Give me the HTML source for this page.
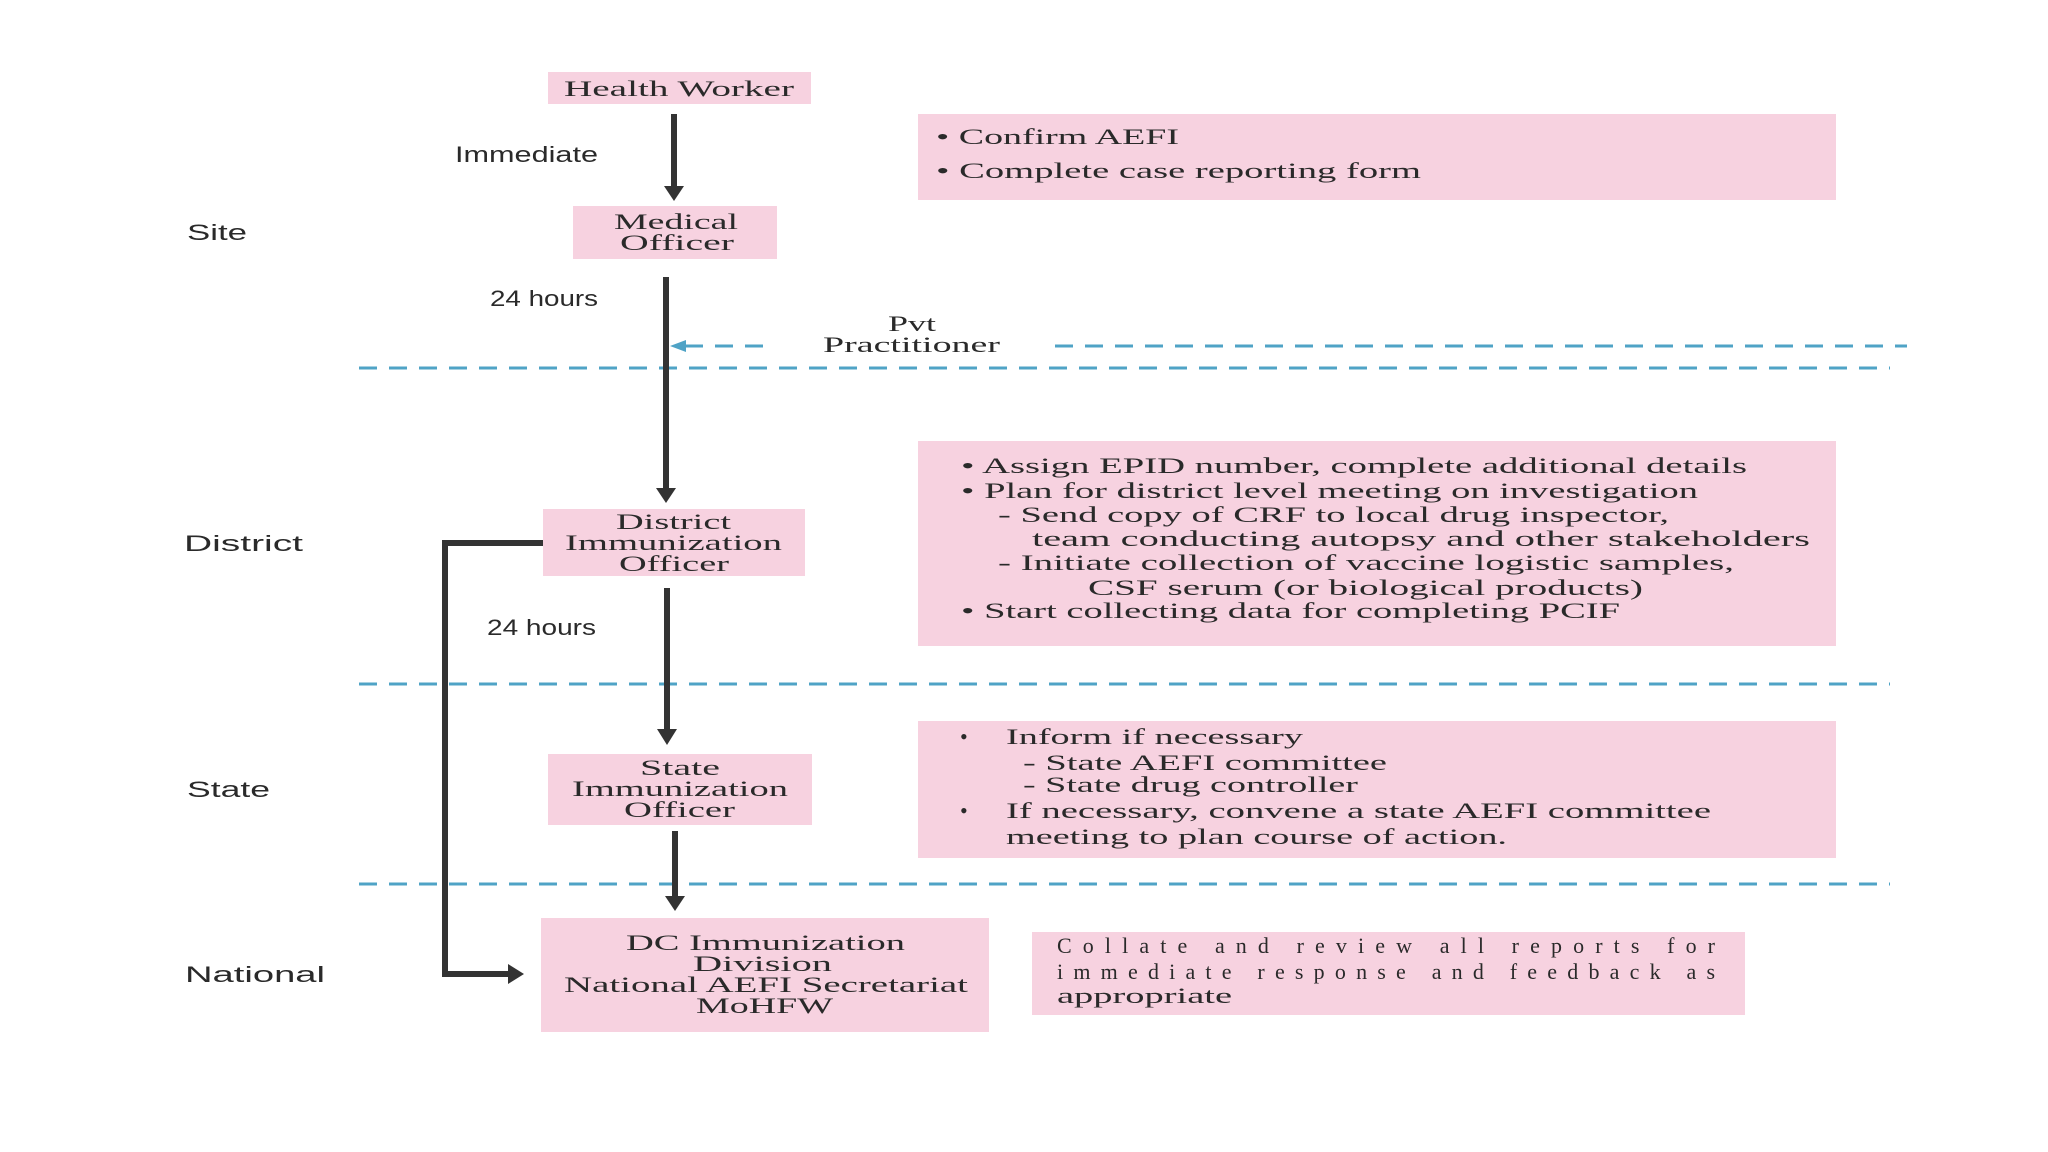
<!DOCTYPE html>
<html><head><meta charset="utf-8"><style>
html,body{margin:0;padding:0;background:#fff;}
svg{display:block;}
.s{font-family:"Liberation Serif",serif;font-size:22px;fill:#2a2a2a;}
.a{font-family:"Liberation Sans",sans-serif;font-size:22px;fill:#2a2a2a;}
</style></head><body>
<svg width="2048" height="1152" viewBox="0 0 2048 1152" xmlns="http://www.w3.org/2000/svg">
<defs>
<marker id="ah" markerWidth="8" markerHeight="8" refX="4" refY="4" orient="auto" markerUnits="userSpaceOnUse"><path d="M0,0 L0,0"/></marker>
</defs>
<rect width="2048" height="1152" fill="#fff"/>
<g fill="#f7d2e0">
<rect x="548" y="72" width="263" height="32"/>
<rect x="573" y="206" width="204" height="53"/>
<rect x="543" y="509" width="262" height="67"/>
<rect x="548" y="754" width="264" height="71"/>
<rect x="541" y="918" width="448" height="114"/>
<rect x="918" y="114" width="918" height="86"/>
<rect x="918" y="441" width="918" height="205"/>
<rect x="918" y="721" width="918" height="137"/>
<rect x="1032" y="932" width="713" height="83"/>
</g>
<!-- dashed lines -->
<g stroke="#4fa3c6" stroke-width="3" stroke-dasharray="18,12" fill="none">
<line x1="359" y1="368" x2="1890" y2="368"/>
<line x1="359" y1="684" x2="1890" y2="684"/>
<line x1="359" y1="884" x2="1890" y2="884"/>
<line x1="685" y1="346" x2="770" y2="346"/>
<line x1="1055" y1="346" x2="1907" y2="346"/>
</g>
<path d="M670,346 L686,340 L686,352 Z" fill="#4fa3c6"/>
<!-- arrows -->
<g stroke="#333" stroke-width="6" fill="none">
<line x1="674" y1="114" x2="674" y2="188"/>
<line x1="666" y1="277" x2="666" y2="490"/>
<line x1="667" y1="588" x2="667" y2="731"/>
<line x1="675" y1="831" x2="675" y2="898"/>
<polyline points="543,543 445,543 445,974 510,974"/>
</g>
<g fill="#333">
<path d="M664,186 L684,186 L674,201 Z"/>
<path d="M656,488 L676,488 L666,503 Z"/>
<path d="M657,729 L677,729 L667,745 Z"/>
<path d="M665,896 L685,896 L675,911 Z"/>
<path d="M508,964 L508,984 L524,974 Z"/>
</g>
<!-- sans labels -->
<g class="a">
<text x="187" y="240" textLength="60" lengthAdjust="spacingAndGlyphs">Site</text>
<text x="455" y="162" textLength="143" lengthAdjust="spacingAndGlyphs">Immediate</text>
<text x="490" y="306" textLength="108" lengthAdjust="spacingAndGlyphs">24 hours</text>
<text x="184" y="551" textLength="119" lengthAdjust="spacingAndGlyphs">District</text>
<text x="487" y="635" textLength="109" lengthAdjust="spacingAndGlyphs">24 hours</text>
<text x="187" y="797" textLength="83" lengthAdjust="spacingAndGlyphs">State</text>
<text x="185" y="982" textLength="140" lengthAdjust="spacingAndGlyphs">National</text>
</g>
<g class="s">
<text x="564" y="96" textLength="230" lengthAdjust="spacingAndGlyphs">Health Worker</text>
<text x="614" y="229" textLength="124" lengthAdjust="spacingAndGlyphs">Medical</text>
<text x="620" y="250" textLength="114" lengthAdjust="spacingAndGlyphs">Officer</text>
<text x="888" y="331" textLength="48" lengthAdjust="spacingAndGlyphs">Pvt</text>
<text x="823" y="352" textLength="177" lengthAdjust="spacingAndGlyphs">Practitioner</text>
<text x="616" y="529" textLength="115" lengthAdjust="spacingAndGlyphs">District</text>
<text x="565" y="550" textLength="217" lengthAdjust="spacingAndGlyphs">Immunization</text>
<text x="619" y="571" textLength="110" lengthAdjust="spacingAndGlyphs">Officer</text>
<text x="640" y="775" textLength="80" lengthAdjust="spacingAndGlyphs">State</text>
<text x="572" y="796" textLength="216" lengthAdjust="spacingAndGlyphs">Immunization</text>
<text x="624" y="817" textLength="111" lengthAdjust="spacingAndGlyphs">Officer</text>
<text x="626" y="950" textLength="279" lengthAdjust="spacingAndGlyphs">DC Immunization</text>
<text x="693" y="971" textLength="139" lengthAdjust="spacingAndGlyphs">Division</text>
<text x="564" y="992" textLength="404" lengthAdjust="spacingAndGlyphs">National AEFI Secretariat</text>
<text x="696" y="1013" textLength="137" lengthAdjust="spacingAndGlyphs">MoHFW</text>

<text x="936" y="144" textLength="243" lengthAdjust="spacingAndGlyphs">• Confirm AEFI</text>
<text x="936" y="178" textLength="485" lengthAdjust="spacingAndGlyphs">• Complete case reporting form</text>

<text x="961" y="473" textLength="786" lengthAdjust="spacingAndGlyphs">• Assign EPID number, complete additional details</text>
<text x="961" y="498" textLength="737" lengthAdjust="spacingAndGlyphs">• Plan for district level meeting on investigation</text>
<text x="998" y="522" textLength="671" lengthAdjust="spacingAndGlyphs">- Send copy of CRF to local drug inspector,</text>
<text x="1032" y="546" textLength="778" lengthAdjust="spacingAndGlyphs">team conducting autopsy  and  other  stakeholders</text>
<text x="998" y="570" textLength="736" lengthAdjust="spacingAndGlyphs">- Initiate collection of vaccine  logistic samples,</text>
<text x="1088" y="595" textLength="555" lengthAdjust="spacingAndGlyphs">CSF  serum (or biological products)</text>
<text x="961" y="618" textLength="659" lengthAdjust="spacingAndGlyphs">• Start collecting data for completing PCIF</text>

<text x="960" y="744">•</text>
<text x="1006" y="744" textLength="297" lengthAdjust="spacingAndGlyphs">Inform if necessary</text>
<text x="1023" y="770" textLength="364" lengthAdjust="spacingAndGlyphs">- State AEFI committee</text>
<text x="1023" y="792" textLength="335" lengthAdjust="spacingAndGlyphs">- State drug controller</text>
<text x="960" y="818">•</text>
<text x="1006" y="818" textLength="705" lengthAdjust="spacingAndGlyphs">If necessary, convene a state AEFI committee</text>
<text x="1006" y="844" textLength="501" lengthAdjust="spacingAndGlyphs">meeting to plan course of action.</text>

<text x="1057" y="953" textLength="658" lengthAdjust="spacing">Collate and review all reports for</text>
<text x="1057" y="979" textLength="658" lengthAdjust="spacing">immediate response and feedback as</text>
<text x="1057" y="1003" textLength="175" lengthAdjust="spacingAndGlyphs">appropriate</text>
</g>
</svg>
</body></html>
